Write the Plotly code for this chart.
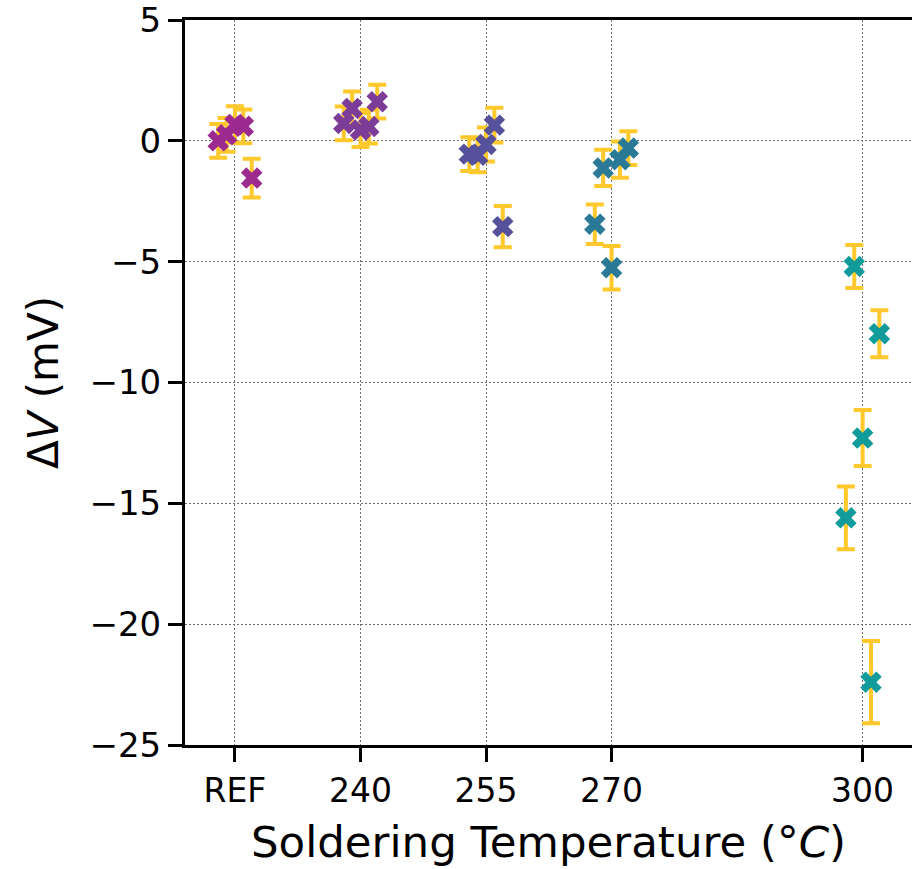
import plotly.graph_objects as go

# Soldering temperature groups (REF plotted at 225 °C position)
group_labels = ["REF", "240", "255", "270", "300"]
group_colors = ["#9c2a8f", "#7b3d98", "#55519a", "#2a7a97", "#119b9b"]

# Per-group measurement positions (°C, spread around the group temperature)
x_ref = [223, 224, 225, 226, 227]
x_240 = [238, 239, 240, 241, 242]
x_255 = [253, 254, 255, 256, 257]
x_270 = [268, 269, 270, 271, 272]
x_300 = [298, 299, 300, 301, 302]

# Voltage shift ΔV (mV)
dv_ref = [0.0, 0.25, 0.68, 0.6, -1.54]
dv_240 = [0.72, 1.34, 0.45, 0.59, 1.62]
dv_255 = [-0.55, -0.6, -0.15, 0.65, -3.55]
dv_270 = [-3.45, -1.12, -5.25, -0.78, -0.3]
dv_300 = [-15.6, -5.2, -12.3, -22.4, -7.98]

# Measurement uncertainty (mV)
err_ref = [0.7, 0.7, 0.75, 0.7, 0.8]
err_240 = [0.7, 0.7, 0.7, 0.7, 0.7]
err_255 = [0.7, 0.7, 0.7, 0.72, 0.85]
err_270 = [0.82, 0.75, 0.9, 0.75, 0.7]
err_300 = [1.3, 0.89, 1.16, 1.7, 0.97]

tick_vals = [225, 240, 255, 270, 300]
y_ticks = [5, 0, -5, -10, -15, -20, -25]

groups = [
    (x_ref, dv_ref, err_ref),
    (x_240, dv_240, err_240),
    (x_255, dv_255, err_255),
    (x_270, dv_270, err_270),
    (x_300, dv_300, err_300),
]

FONT = "DejaVu Sans"
ERR_COLOR = "#ffc82c"
GRID = dict(showgrid=True, gridcolor="#6e6e6e", gridwidth=1, griddash="2px,2px")

fig = go.Figure()
for (xs, ys, es), color, name in zip(groups, group_colors, group_labels):
    fig.add_trace(go.Scatter(
        x=xs, y=ys, mode="markers", name=name,
        marker=dict(symbol="x", size=19, color=color, line=dict(width=0)),
        error_y=dict(type="data", array=es, visible=True, color=ERR_COLOR,
                     thickness=4, width=9),
        showlegend=False,
    ))

fig.update_layout(
    width=912, height=869,
    margin=dict(l=185, r=0, t=18, b=124),
    paper_bgcolor="white", plot_bgcolor="white",
    font=dict(family=FONT, color="black"),
)

fig.update_xaxes(
    range=[219.03, 305.9],
    tickmode="array", tickvals=tick_vals, ticktext=group_labels,
    ticks="outside", ticklen=14, tickwidth=3, tickcolor="black",
    tickfont=dict(size=33, family=FONT),
    showline=True, linecolor="black", linewidth=3, mirror=True,
    zeroline=False, **GRID,
    title=dict(text="Soldering Temperature (°<i>C</i>)",
               font=dict(size=43.5, family=FONT), standoff=18),
)

fig.update_yaxes(
    range=[-25.0, 5.0],
    tickmode="array", tickvals=y_ticks,
    ticktext=[("\u2212" + str(-v)) if v < 0 else str(v) for v in y_ticks],
    ticks="outside", ticklen=14, tickwidth=3, tickcolor="black",
    tickfont=dict(size=34, family=FONT),
    ticklabeloverflow="allow",
    showline=True, linecolor="black", linewidth=3, mirror=False,
    zeroline=False, **GRID,
    title=dict(text="Δ<i>V</i> (mV)", font=dict(size=42, family=FONT),
               standoff=18),
)

fig.write_html("out.html")
